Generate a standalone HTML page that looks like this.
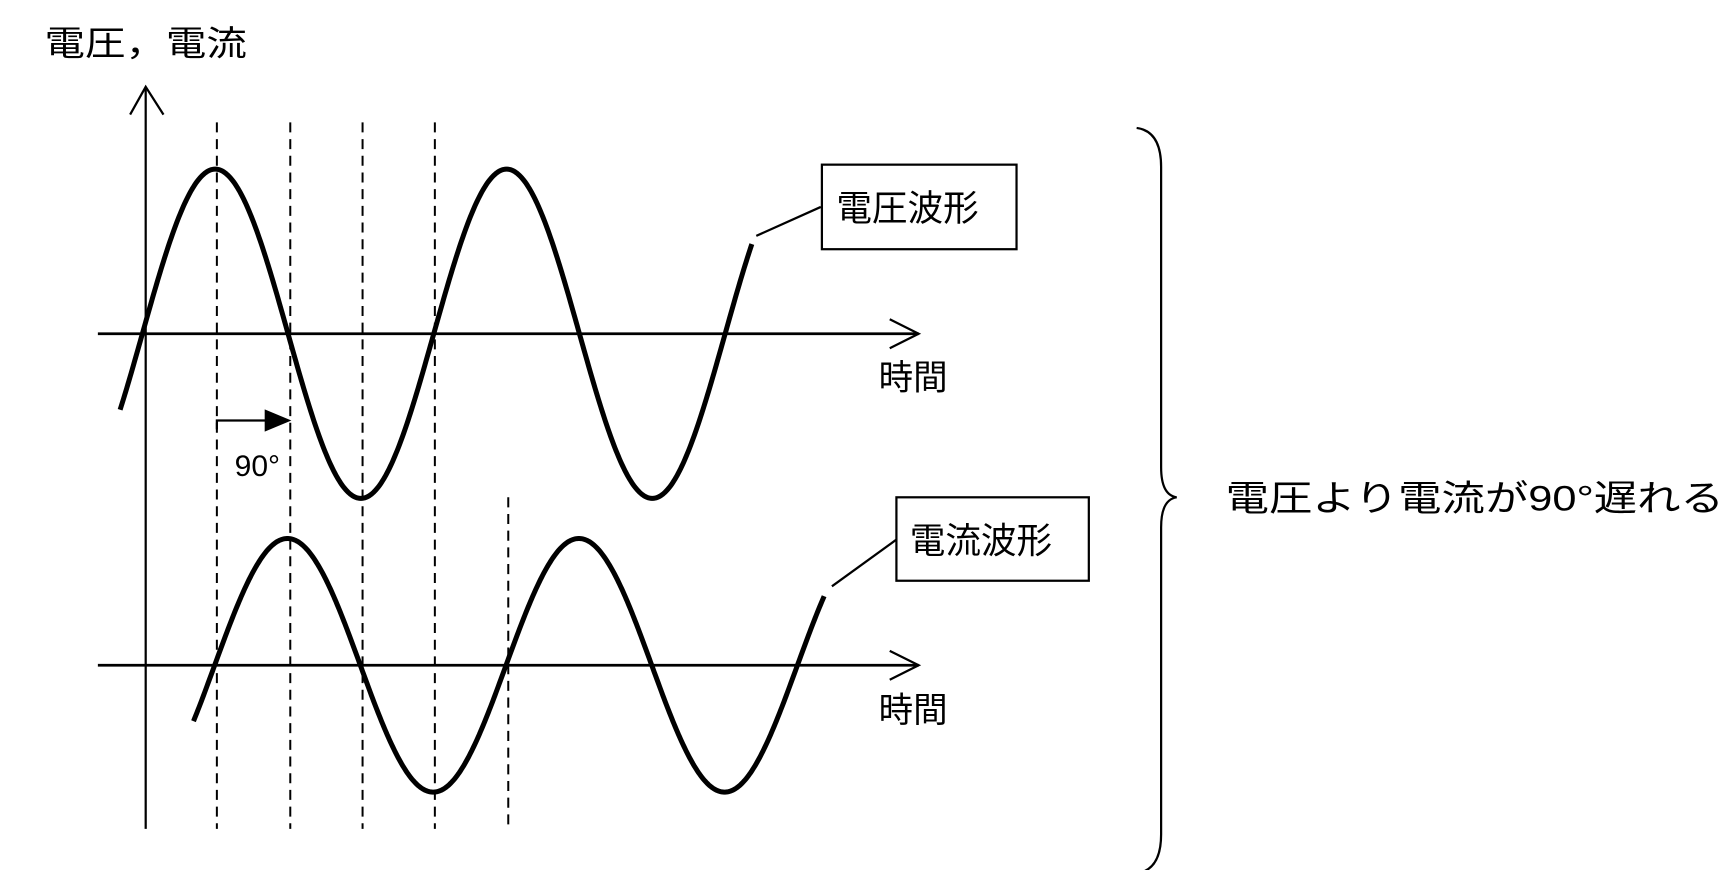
<!DOCTYPE html>
<html><head><meta charset="utf-8"><style>
html,body{margin:0;padding:0;background:#fff;}
svg{display:block;}
text{font-family:"Liberation Sans","Noto Sans CJK JP",sans-serif;fill:#000;}
</style></head><body>
<svg id="s" width="1735" height="870" viewBox="0 0 1560 782" preserveAspectRatio="none" xmlns="http://www.w3.org/2000/svg">
<g stroke="#000" fill="none">
<line x1="131" y1="78" x2="131" y2="745" stroke-width="2"/>
<polyline points="117,103 131,78 147,103" stroke-width="2"/>
<line x1="88" y1="300" x2="826" y2="300" stroke-width="2.5"/>
<polyline points="800,287 826,300 800,313" stroke-width="2"/>
<line x1="88" y1="598" x2="826" y2="598" stroke-width="2.5"/>
<polyline points="800,585 826,598 800,611" stroke-width="2"/>
<g stroke-width="1.8" stroke-dasharray="9,6">
<line x1="195" y1="110" x2="195" y2="745"/>
<line x1="261" y1="110" x2="261" y2="745"/>
<line x1="326" y1="110" x2="326" y2="745"/>
<line x1="391" y1="110" x2="391" y2="745"/>
<line x1="457" y1="447" x2="457" y2="745"/>
</g>
<path id="v" stroke-width="4.5"/>
<path id="c" stroke-width="4.5"/>
<line x1="680" y1="212" x2="738" y2="186" stroke-width="2"/>
<line x1="748" y1="527" x2="806" y2="485" stroke-width="2"/>
<rect x="739" y="148" width="175" height="76" stroke-width="2"/>
<rect x="806" y="447" width="173" height="75" stroke-width="2"/>
<polyline points="195,386 195,378 240,378" stroke-width="2"/>
<path d="M1022,115 Q1044,118 1044,150 L1044,420 Q1044,445 1058,447 Q1044,449 1044,474 L1044,750 Q1044,782 1022,785" stroke-width="2"/>
</g>
<polygon points="238,368 262,378 238,388" fill="#000"/>
<text x="40" y="50" font-size="31" textLength="182" lengthAdjust="spacingAndGlyphs">電圧，電流</text>
<text x="790" y="350" font-size="31">時間</text>
<text x="790" y="649" font-size="31">時間</text>
<text x="752" y="198" font-size="32">電圧波形</text>
<text x="818" y="497" font-size="32">電流波形</text>
<text x="211" y="428" font-size="27">90°</text>
<text x="1102" y="459" font-size="32" textLength="448" lengthAdjust="spacingAndGlyphs">電圧より電流が90°遅れる</text>
</svg>
<script>
function wave(id,x0,x1,z,P,cy,A){
 var d="";for(var x=x0;x<=x1;x+=1){var y=cy-A*Math.sin(2*Math.PI*(x-z)/P);d+=(d?"L":"M")+x+","+y.toFixed(1);}
 document.getElementById(id).setAttribute("d",d);}
wave("v",108,676,128,262,300,148);
wave("c",174,741,193,262,598,114);
</script>
</body></html>
